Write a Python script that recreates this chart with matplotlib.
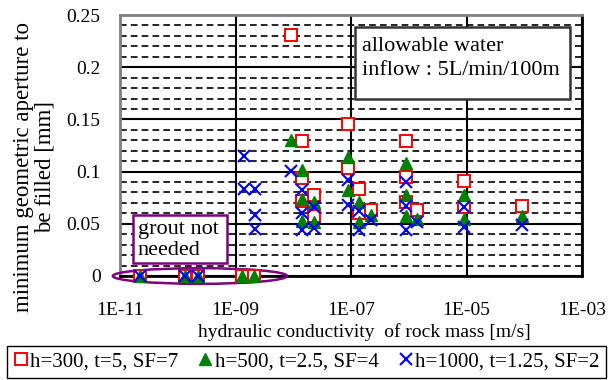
import matplotlib.pyplot as plt
from matplotlib.patches import Ellipse, Rectangle
from matplotlib.ticker import FixedLocator, MultipleLocator, NullFormatter

plt.rcParams["font.family"] = ["Liberation Serif", "DejaVu Serif"]
plt.rcParams["font.size"] = 14

# hydraulic conductivity [m/s] and minimum aperture [mm] for each case
k_h300 = [2.2e-11, 1.35e-10, 2.2e-10, 1.3e-9, 2.1e-9,
          9e-9, 1.4e-8, 1.4e-8, 1.4e-8, 2.3e-8, 2.3e-8,
          9e-8, 9e-8, 1.4e-7, 1.4e-7, 2.2e-7,
          9e-7, 9e-7, 9e-7, 1.4e-6, 9e-6, 9e-6, 9e-5]
a_h300 = [0, 0, 0, 0, 0,
          0.231, 0.129, 0.094, 0.072, 0.078, 0.057,
          0.146, 0.103, 0.083, 0.060, 0.063,
          0.129, 0.095, 0.071, 0.063, 0.091, 0.066, 0.067]

k_h500 = [2.2e-11, 1.35e-10, 2.2e-10, 1.3e-9, 2.1e-9,
          9e-9, 1.4e-8, 1.4e-8, 1.4e-8, 2.3e-8, 2.3e-8,
          9e-8, 9e-8, 1.4e-7, 1.4e-7, 2.2e-7,
          9e-7, 9e-7, 9e-7, 1.4e-6, 9e-6, 9e-6, 9e-5]
a_h500 = [0, 0, 0, 0, 0,
          0.130, 0.102, 0.0735, 0.053, 0.071, 0.052,
          0.114, 0.082, 0.071, 0.052, 0.058,
          0.108, 0.078, 0.057, 0.055, 0.078, 0.055, 0.057]

k_h1000 = [2.2e-11, 1.35e-10, 2.2e-10, 1.4e-9, 1.4e-9, 2.2e-9, 2.2e-9, 2.2e-9,
           9e-9, 1.4e-8, 1.4e-8, 1.4e-8, 2.3e-8, 2.3e-8,
           9e-8, 9e-8, 1.4e-7, 1.4e-7, 2.2e-7,
           9e-7, 9e-7, 9e-7, 1.4e-6, 9e-6, 9e-6, 9e-5]
a_h1000 = [0, 0, 0, 0.115, 0.083, 0.083, 0.058, 0.045,
           0.101, 0.082, 0.060, 0.044, 0.066, 0.046,
           0.092, 0.068, 0.062, 0.044, 0.054,
           0.090, 0.067, 0.044, 0.052, 0.066, 0.047, 0.049]

labels = ["h=300, t=5, SF=7", "h=500, t=2.5, SF=4", "h=1000, t=1.25, SF=2"]
x_ticks = [1e-11, 1e-9, 1e-7, 1e-5, 1e-3]
x_ticklabels = ["1E-11", "1E-09", "1E-07", "1E-05", "1E-03"]

fig = plt.figure(figsize=(6.16, 3.80), dpi=100)
ax = fig.add_axes([120 / 616, 1 - 276 / 380, 462 / 616, 261 / 380])

ax.plot(k_h300, a_h300, ls="none", marker="s", ms=8.5, mfc="white",
        mec="#ff0000", mew=1.4, label=labels[0], zorder=8, clip_on=False)
ax.plot(k_h500, a_h500, ls="none", marker="^", ms=9, mfc="#008000",
        mec="#008000", label=labels[1], zorder=9, clip_on=False)
ax.plot(k_h1000, a_h1000, ls="none", marker="x", ms=9, mec="#0000ff",
        mew=1.5, label=labels[2], zorder=10, clip_on=False)

ax.set_xscale("log")
ax.set_xlim(1e-11, 1e-3)
ax.set_ylim(0, 0.25)
ax.xaxis.set_major_locator(FixedLocator(x_ticks))
ax.xaxis.set_minor_locator(FixedLocator([]))
ax.set_xticks(x_ticks, x_ticklabels)
ax.xaxis.set_minor_formatter(NullFormatter())
ax.yaxis.set_major_locator(MultipleLocator(0.05))
ax.yaxis.set_minor_locator(MultipleLocator(0.01))
ax.set_yticks([0, 0.05, 0.1, 0.15, 0.2, 0.25],
              ["0", "0.05", "0.1", "0.15", "0.2", "0.25"])

ax.grid(True, which="major", color="black", lw=1.5, zorder=1)
ax.grid(True, which="minor", axis="y", color="black", lw=1.2,
        ls=(0, (4, 2.5)), zorder=1)
ax.tick_params(axis="both", which="both", length=0)
ax.tick_params(axis="x", pad=19)
ax.tick_params(axis="y", pad=14)

for side in ["left", "top"]:
    ax.spines[side].set_color("#808080")
    ax.spines[side].set_linewidth(2)
for side in ["right", "bottom"]:
    ax.spines[side].set_color("black")
    ax.spines[side].set_linewidth(2)

ax.set_ylabel("minimum geometric aperture to\nbe filled [mm]", linespacing=1.05,
              fontsize=16.5)
ax.yaxis.set_label_coords(-0.14, 0.418)
fig.text(364 / 616, 1 - 332 / 380, "hydraulic conductivity  of rock mass [m/s]",
         ha="center", va="center")

# allowable inflow note
ax.add_patch(Rectangle((0.509, 0.678), 0.465, 0.276, transform=ax.transAxes,
                       fc="white", ec="#333333", lw=1.8, zorder=6))
ax.text(0.523, 0.833, "allowable water\ninflow : 5L/min/100m",
        transform=ax.transAxes, ha="left", va="center", linespacing=1.3,
        fontsize=16, zorder=7)

# no-grout zone
ax.add_patch(Rectangle((0.028, 0.05), 0.2035, 0.184, transform=ax.transAxes,
                       fc="white", ec="#800080", lw=1.8, zorder=6))
ax.text(0.038, 0.138, "grout not\nneeded", transform=ax.transAxes,
        ha="left", va="center", linespacing=1.1, fontsize=16, zorder=7)
ax.add_patch(Ellipse((0.173, 0.0), 0.377, 0.06, transform=ax.transAxes,
                     fill=False, ec="#800080", lw=1.8, clip_on=False, zorder=7))

fig.legend(loc="lower left", bbox_to_anchor=(7 / 616, 2 / 380, 599 / 616, 31 / 380),
           mode="expand", ncol=3, frameon=True, fancybox=False,
           edgecolor="black", framealpha=1, handlelength=0.7,
           handletextpad=0.1, columnspacing=0.6, borderpad=0.3,
           borderaxespad=0, fontsize=15)

fig.savefig("out.png", dpi=100)
